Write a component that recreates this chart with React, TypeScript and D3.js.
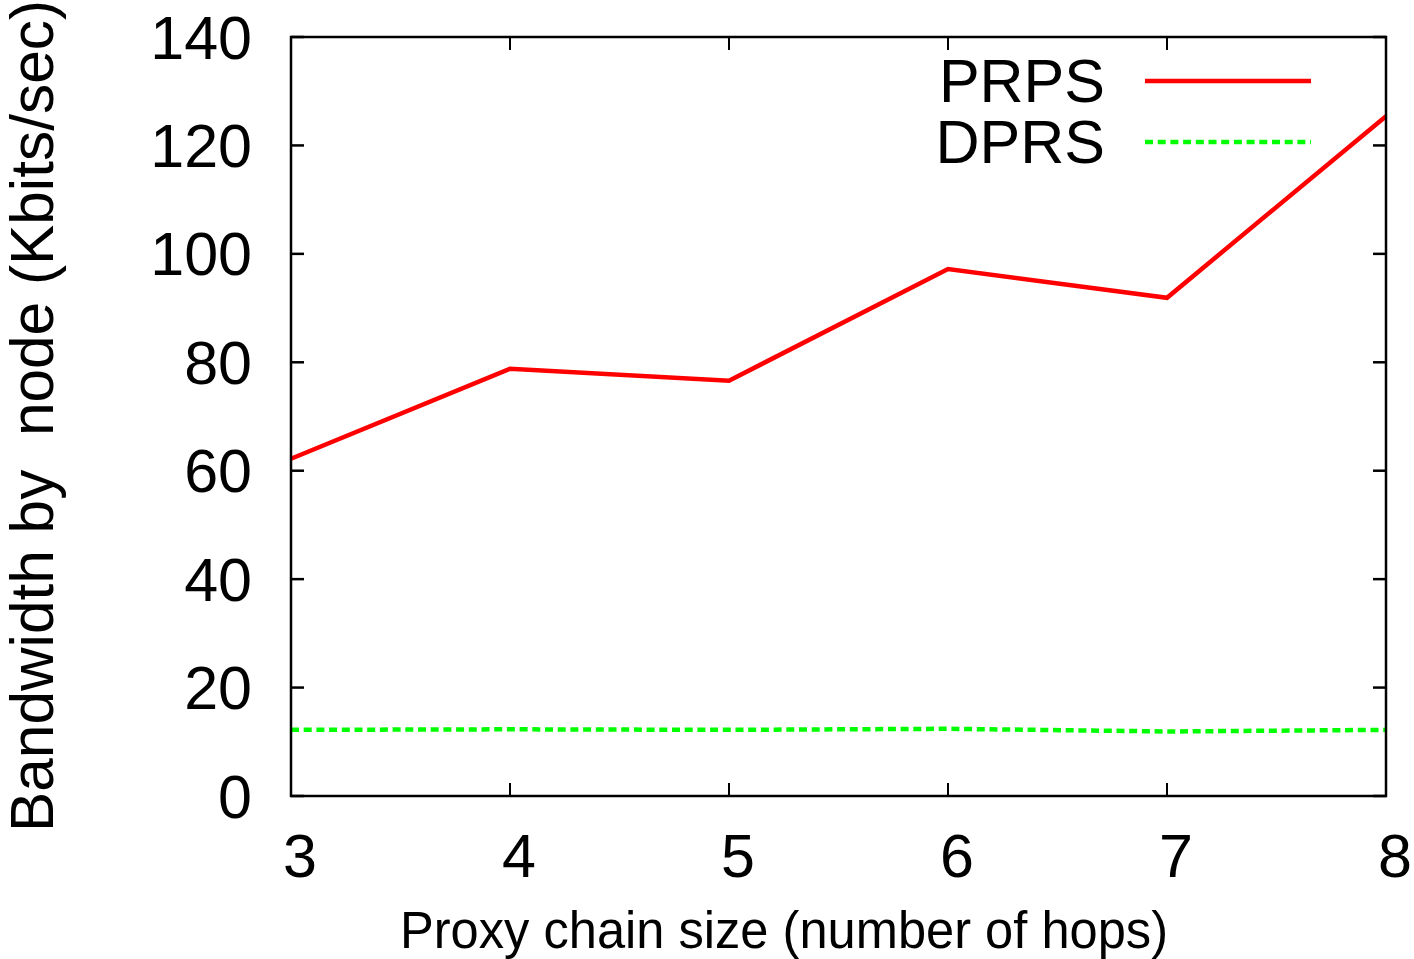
import React from "react";
import * as d3 from "d3";

// Proxy chain size (number of hops)
const hops = [3, 4, 5, 6, 7, 8];
// Bandwidth by node, Kbits/sec
const prps = [62.2, 78.8, 76.6, 97.2, 91.9, 125.4];
const dprs = [12.2, 12.3, 12.2, 12.4, 11.9, 12.2];
const yTicks = [0, 20, 40, 60, 80, 100, 120, 140];

const series = [
  { name: "PRPS", values: prps, color: "#ff0000", dash: "" },
  { name: "DPRS", values: dprs, color: "#00ff00", dash: "8,4.7" },
];

const W = 1414;
const H = 959;
const M = { left: 291, right: 1386, top: 37, bottom: 796 };
const FONT = "'Liberation Sans', Arial, Helvetica, sans-serif";
const FS = 61;

export default function App() {
  const x = d3.scaleLinear().domain([3, 8]).range([M.left, M.right]);
  const y = d3.scaleLinear().domain([0, 140]).range([M.bottom, M.top]);
  const line = d3
    .line<number>()
    .x((_, i) => x(hops[i]))
    .y((d) => y(d));
  const tick = 13;

  return (
    <svg
      width={W}
      height={H}
      style={{ position: "absolute", left: 0, top: 0, background: "#fff" }}
      fontFamily={FONT}
    >
      <rect x={0} y={0} width={W} height={H} fill="#fff" />
      {/* y ticks, mirrored on the right */}
      {yTicks.map((t) => (
        <g key={"y" + t}>
          <line x1={M.left} x2={M.left + tick} y1={y(t)} y2={y(t)} stroke="#000" strokeWidth={2.5} />
          <line x1={M.right} x2={M.right - tick} y1={y(t)} y2={y(t)} stroke="#000" strokeWidth={2.5} />
          <text x={252} y={y(t) + 21.5} textAnchor="end" fontSize={FS} fill="#000">
            {t}
          </text>
        </g>
      ))}
      {/* x ticks, mirrored on top */}
      {hops.map((h) => (
        <g key={"x" + h}>
          <line x1={x(h)} x2={x(h)} y1={M.bottom} y2={M.bottom - tick} stroke="#000" strokeWidth={2} />
          <line x1={x(h)} x2={x(h)} y1={M.top} y2={M.top + tick} stroke="#000" strokeWidth={2} />
          <text x={x(h) + 9} y={877} textAnchor="middle" fontSize={FS} fill="#000">
            {h}
          </text>
        </g>
      ))}
      {series.map((s) => (
        <path
          key={s.name}
          d={line(s.values) || ""}
          fill="none"
          stroke={s.color}
          strokeWidth={4.5}
          strokeDasharray={s.dash}
        />
      ))}
      {/* frame */}
      <rect
        x={M.left}
        y={M.top}
        width={M.right - M.left}
        height={M.bottom - M.top}
        fill="none"
        stroke="#000"
        strokeWidth={2.5}
      />
      {/* legend */}
      {series.map((s, i) => {
        const ly = 81 + i * 61;
        return (
          <g key={"lg" + s.name}>
            <text x={1105} y={ly + 21} textAnchor="end" fontSize={FS} fill="#000">
              {s.name}
            </text>
            <line
              x1={1145}
              x2={1311}
              y1={ly}
              y2={ly}
              stroke={s.color}
              strokeWidth={4.5}
              strokeDasharray={s.dash}
            />
          </g>
        );
      })}
      <text
        x={400}
        y={948}
        fontSize={51}
        fill="#000"
        textLength={768}
        lengthAdjust="spacingAndGlyphs"
      >
        Proxy chain size (number of hops)
      </text>
      <text
        transform={`translate(53,832) rotate(-90)`}
        fontSize={FS}
        fill="#000"
        textLength={832}
        lengthAdjust="spacingAndGlyphs"
        style={{ whiteSpace: "pre" }}
      >
        {"Bandwidth by  node (Kbits/sec)"}
      </text>
    </svg>
  );
}
